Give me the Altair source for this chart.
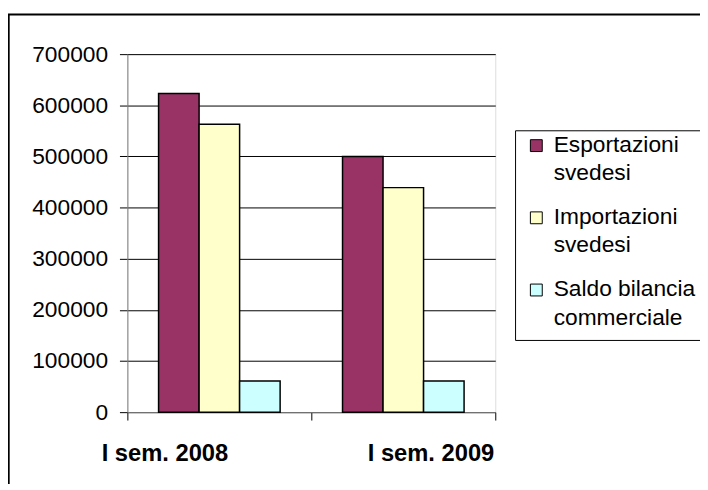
import altair as alt
import pandas as pd

periodi = ["I sem. 2008", "I sem. 2009"]
serie = ["Esportazioni svedesi", "Importazioni svedesi", "Saldo bilancia commerciale"]
esportazioni = [623000, 500000]
importazioni = [563000, 439000]
saldo = [61000, 61000]
colori = ["#993366", "#FFFFCC", "#CCFFFF"]
y_ticks = [0, 100000, 200000, 300000, 400000, 500000, 600000, 700000]

rows = []
for i, p in enumerate(periodi):
    for s, vals in zip(serie, [esportazioni, importazioni, saldo]):
        rows.append({"Periodo": p, "Serie": s, "Valore": vals[i]})
df = pd.DataFrame(rows)

FONT = "Liberation Sans"

bars = alt.Chart(df).mark_bar(stroke="black", strokeWidth=1.5).encode(
    x=alt.X(
        "Periodo:N",
        sort=periodi,
        scale=alt.Scale(paddingInner=0, paddingOuter=0),
        axis=alt.Axis(
            title=None,
            labelAngle=0,
            labelFont=FONT,
            labelFontSize=24,
            labelFontWeight="bold",
            labelColor="black",
            labelBaseline="top",
            labelPadding=22,
            tickSize=8,
            tickColor="black",
            domainColor="#808080",
            bandPosition=1,
            tickExtra=True,
            labelOffset={"condition": {"test": "datum.value == 'I sem. 2008'", "value": -55}, "value": 28},
            grid=False,
        ),
    ),
    xOffset=alt.XOffset("Serie:N", sort=serie, scale=alt.Scale(paddingOuter=0.77, paddingInner=0)),
    y=alt.Y(
        "Valore:Q",
        scale=alt.Scale(domain=[0, 700000], nice=False),
        axis=alt.Axis(
            title=None,
            values=y_ticks,
            format="d",
            labelFont=FONT,
            labelFontSize=23,
            labelColor="black",
            labelPadding=12,
            tickSize=8,
            tickColor="black",
            domainColor="#808080",
            grid=True,
            gridColor="black",
            gridWidth=1,
        ),
    ),
    color=alt.Color(
        "Serie:N",
        sort=serie,
        scale=alt.Scale(domain=serie, range=colori),
        legend=alt.Legend(
            title=None,
            orient="none",
            legendX=392,
            legendY=77,
            direction="vertical",
            fillColor="white",
            strokeColor="black",
            padding=10,
            symbolType="M-1,-2L1,-2L1,0L-1,0Z",
            symbolSize=144,
            symbolStrokeColor="black",
            symbolStrokeWidth=1,
            labelFont=FONT,
            labelFontSize=23,
            labelColor="black",
            labelBaseline="alphabetic",
            labelOffset=6,
            labelLimit=0,
            rowPadding=20,
            labelExpr="datum.label == 'Saldo bilancia commerciale' ? ['Saldo bilancia', 'commerciale'] : split(datum.label, ' ')",
        ),
    ),
)

frame = alt.Chart(pd.DataFrame({"f": [0]})).mark_rect(
    fillOpacity=0, stroke="black", strokeWidth=2
).encode(
    x=alt.value(-120), x2=alt.value(700), y=alt.value(-40), y2=alt.value(500)
)

chart = alt.layer(frame, bars).properties(
    width=372,
    height=362,
    padding={"left": 120.7, "top": 44, "right": 207, "bottom": 70},
    autosize=alt.AutoSizeParams(type="none"),
    background="white",
).configure_view(
    fill="#C0C0C0", stroke="#808080", strokeWidth=1.5
).configure(
    style={"guide-label": {"lineHeight": 29}}
)

chart.save("out.html", embed_options={"renderer": "svg", "actions": False})
